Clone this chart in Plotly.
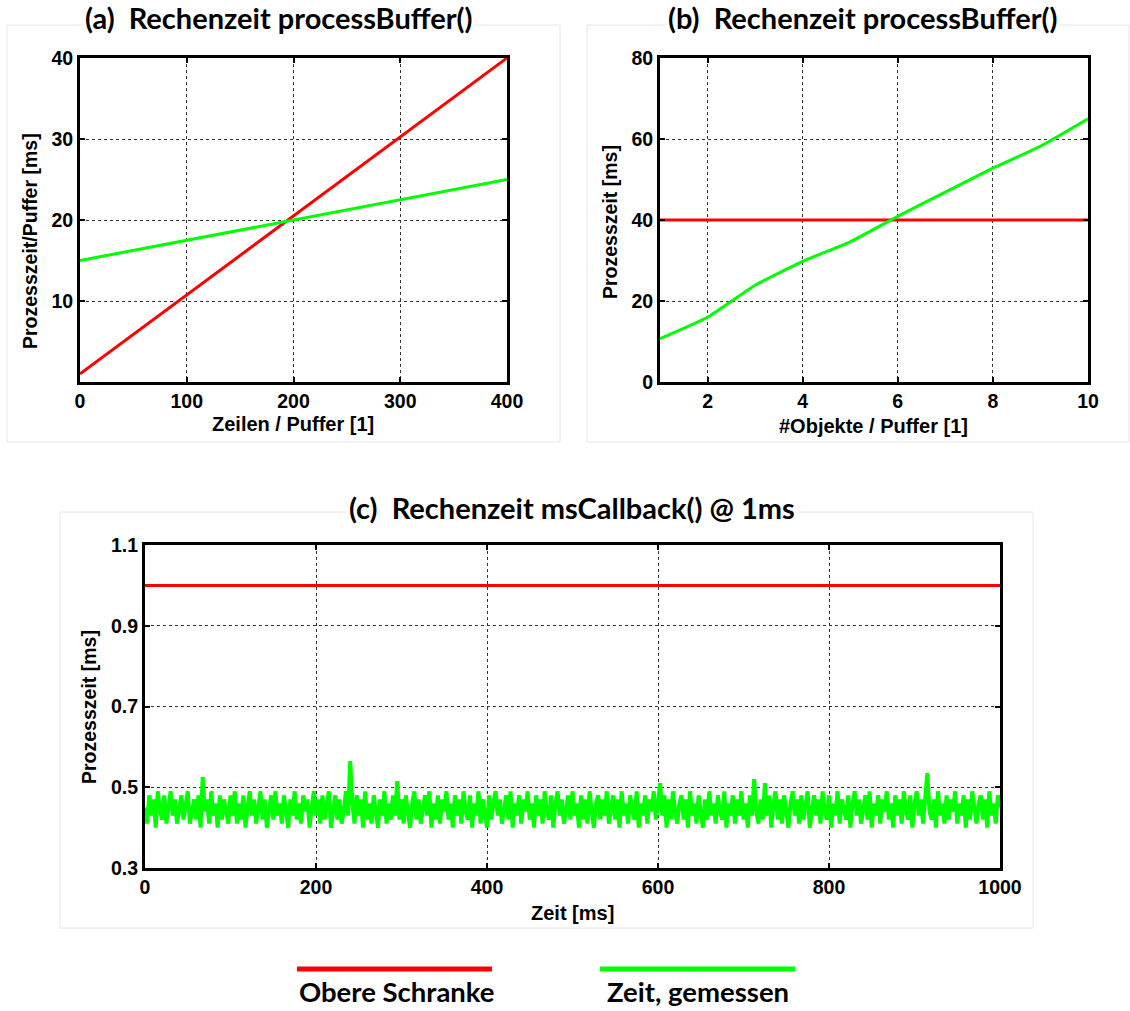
import plotly.graph_objects as go

W, H = 1130, 1011

# ---- data ----
a_x = [0, 400]
a_red = [1, 40]
a_green = [15, 25]

b_x = [1, 2, 3, 4, 5, 6, 7, 8, 9, 10]
b_green = [10.7, 16.0, 23.9, 29.8, 34.6, 40.9, 46.9, 52.8, 58.2, 65.0]
b_red = [40] * len(b_x)

c_step = 2.5
c_green = [
    0.45, 0.41, 0.48, 0.43, 0.47, 0.40, 0.49, 0.44, 0.42, 0.48, 0.41, 0.46, 0.49, 0.43, 0.47, 0.41, 0.45, 0.48, 0.42, 0.46,
    0.49, 0.41, 0.44, 0.47, 0.42, 0.48, 0.40, 0.525, 0.44, 0.47, 0.41, 0.49, 0.43, 0.46, 0.40, 0.48, 0.42, 0.47, 0.44, 0.41,
    0.48, 0.43, 0.49, 0.41, 0.46, 0.42, 0.48, 0.40, 0.45, 0.49, 0.43, 0.47, 0.41, 0.46, 0.49, 0.42, 0.47, 0.40, 0.44, 0.48,
    0.42, 0.49, 0.43, 0.46, 0.41, 0.48, 0.44, 0.40, 0.47, 0.43, 0.49, 0.42, 0.46, 0.41, 0.48, 0.44, 0.47, 0.40, 0.45, 0.49,
    0.43, 0.47, 0.41, 0.48, 0.42, 0.46, 0.49, 0.40, 0.45, 0.48, 0.42, 0.47, 0.41, 0.44, 0.49, 0.43, 0.565, 0.46, 0.41, 0.48,
    0.43, 0.47, 0.40, 0.49, 0.42, 0.46, 0.41, 0.48, 0.44, 0.40, 0.47, 0.43, 0.49, 0.41, 0.46, 0.42, 0.48, 0.43, 0.515, 0.42,
    0.47, 0.41, 0.48, 0.44, 0.40, 0.46, 0.49, 0.42, 0.47, 0.41, 0.45, 0.48, 0.43, 0.49, 0.40, 0.46, 0.42, 0.48, 0.41, 0.47,
    0.44, 0.49, 0.42, 0.46, 0.40, 0.48, 0.43, 0.47, 0.41, 0.49, 0.44, 0.42, 0.48, 0.40, 0.46, 0.43, 0.49, 0.41, 0.47, 0.44,
    0.40, 0.48, 0.42, 0.46, 0.49, 0.43, 0.47, 0.41, 0.45, 0.48, 0.42, 0.49, 0.40, 0.46, 0.43, 0.48, 0.41, 0.47, 0.44, 0.49,
    0.42, 0.46, 0.40, 0.48, 0.43, 0.47, 0.41, 0.49, 0.44, 0.42, 0.48, 0.40, 0.46, 0.49, 0.43, 0.47, 0.41, 0.45, 0.48, 0.42,
    0.49, 0.43, 0.46, 0.40, 0.48, 0.42, 0.47, 0.41, 0.49, 0.44, 0.40, 0.46, 0.48, 0.42, 0.47, 0.43, 0.49, 0.41, 0.45, 0.48,
    0.42, 0.47, 0.40, 0.49, 0.43, 0.46, 0.41, 0.48, 0.44, 0.42, 0.49, 0.40, 0.46, 0.43, 0.48, 0.41, 0.47, 0.44, 0.49, 0.42,
    0.46, 0.51, 0.43, 0.48, 0.40, 0.47, 0.42, 0.49, 0.44, 0.41, 0.46, 0.48, 0.42, 0.47, 0.40, 0.49, 0.43, 0.46, 0.41, 0.48,
    0.44, 0.40, 0.47, 0.42, 0.49, 0.43, 0.46, 0.41, 0.48, 0.44, 0.42, 0.49, 0.40, 0.46, 0.43, 0.48, 0.41, 0.47, 0.43, 0.49,
    0.42, 0.46, 0.40, 0.48, 0.43, 0.52, 0.44, 0.41, 0.47, 0.42, 0.51, 0.43, 0.48, 0.40, 0.46, 0.49, 0.42, 0.47, 0.41, 0.48,
    0.44, 0.40, 0.46, 0.49, 0.43, 0.47, 0.41, 0.48, 0.42, 0.46, 0.49, 0.40, 0.45, 0.48, 0.43, 0.47, 0.41, 0.49, 0.44, 0.42,
    0.48, 0.40, 0.46, 0.43, 0.49, 0.41, 0.47, 0.44, 0.42, 0.48, 0.40, 0.46, 0.49, 0.43, 0.47, 0.41, 0.45, 0.48, 0.42, 0.49,
    0.40, 0.46, 0.43, 0.48, 0.41, 0.47, 0.44, 0.49, 0.42, 0.46, 0.40, 0.48, 0.43, 0.47, 0.41, 0.49, 0.44, 0.42, 0.48, 0.40,
    0.46, 0.49, 0.43, 0.47, 0.41, 0.48, 0.535, 0.44, 0.42, 0.47, 0.40, 0.49, 0.43, 0.46, 0.41, 0.48, 0.42, 0.47, 0.44, 0.49,
    0.41, 0.46, 0.43, 0.48, 0.40, 0.47, 0.42, 0.49, 0.44, 0.41, 0.46, 0.48, 0.42, 0.47, 0.40, 0.49, 0.43, 0.46, 0.41, 0.48,
    0.45,
]
c_x = [i * c_step for i in range(len(c_green))]
c_red = [1.0, 1.0]
c_red_x = [0, 1000]

titles = ["(a)  Rechenzeit processBuffer()", "(b)  Rechenzeit processBuffer()",
          "(c)  Rechenzeit msCallback() @ 1ms"]
legend_labels = ["Obere Schranke", "Zeit, gemessen"]

RED = "#ff0000"
GREEN = "#00ff00"


def px(x):
    return x / W


def py(y):
    return 1 - y / H


fig = go.Figure()
fig.add_trace(go.Scatter(x=a_x, y=a_red, mode="lines", line=dict(color=RED, width=3), xaxis="x", yaxis="y"))
fig.add_trace(go.Scatter(x=a_x, y=a_green, mode="lines", line=dict(color=GREEN, width=3), xaxis="x", yaxis="y"))
fig.add_trace(go.Scatter(x=b_x, y=b_red, mode="lines", line=dict(color=RED, width=3), xaxis="x2", yaxis="y2"))
fig.add_trace(go.Scatter(x=b_x, y=b_green, mode="lines", line=dict(color=GREEN, width=3, shape="spline", smoothing=0.4),
                         xaxis="x2", yaxis="y2"))
fig.add_trace(go.Scatter(x=c_red_x, y=c_red, mode="lines", line=dict(color=RED, width=3), xaxis="x3", yaxis="y3"))
fig.add_trace(go.Scatter(x=c_x, y=c_green, mode="lines", line=dict(color=GREEN, width=4),
                         xaxis="x3", yaxis="y3"))

tickfont = dict(family="Liberation Sans, Arial", size=19.5, color="black", weight="bold")


def ax(domain, rng, tickvals, anchor, ticktext=None):
    d = dict(domain=domain, range=rng, tickvals=tickvals, anchor=anchor,
             showline=True, linecolor="black", linewidth=3, mirror="ticks",
             ticks="inside", ticklen=5, tickwidth=2, tickcolor="black",
             showgrid=True, gridcolor="#333333", gridwidth=1, griddash="dot",
             zeroline=False, tickfont=tickfont, fixedrange=True, automargin=False)
    if ticktext is not None:
        d["ticktext"] = ticktext
    return d


fig.update_layout(
    width=W, height=H, margin=dict(l=0, r=0, t=0, b=0, pad=0, autoexpand=False),
    paper_bgcolor="white", plot_bgcolor="white", showlegend=False,
    xaxis=ax([px(80), px(507)], [0, 400], [0, 100, 200, 300, 400], "y"),
    yaxis=ax([py(382), py(58)], [0, 40], [10, 20, 30, 40], "x"),
    xaxis2=ax([px(660), px(1088)], [1, 10], [2, 4, 6, 8, 10], "y2"),
    yaxis2=ax([py(382), py(58)], [0, 80], [0, 20, 40, 60, 80], "x2"),
    xaxis3=ax([px(145), px(1000)], [0, 1000], [0, 200, 400, 600, 800, 1000], "y3"),
    yaxis3=ax([py(868), py(545)], [0.3, 1.1], [0.3, 0.5, 0.7, 0.9, 1.1], "x3",
              ticktext=["0.3", "0.5", "0.7", "0.9", "1.1"]),
)

# faint panel frames
for (x0, y0, x1, y1) in [(7, 25, 560, 442), (587, 25, 1129, 442), (60, 512, 1033, 928)]:
    fig.add_shape(type="rect", xref="paper", yref="paper", x0=px(x0), x1=px(x1), y0=py(y0), y1=py(y1),
                  line=dict(color="#e6e6e6", width=1), layer="below")

titlefont = dict(family="Lato, Open Sans", size=29, color="black", weight="bold")
legfont = dict(family="Lato, Open Sans", size=27.5, color="black", weight="bold")
labfont_x = dict(family="Liberation Sans, Arial", size=20, color="black", weight="bold")
labfont_y = dict(family="Liberation Sans, Arial", size=19.5, color="black", weight="bold")

for t, (cx, cy) in zip(titles, [(278, 18), (862, 18), (572, 507)]):
    fig.add_annotation(text=t, x=px(cx), y=py(cy), xref="paper", yref="paper", showarrow=False,
                       font=titlefont, xanchor="center", yanchor="middle", bgcolor="white")

for t, (cx, cy) in zip(["Zeilen / Puffer [1]", "#Objekte / Puffer [1]", "Zeit [ms]"],
                       [(293, 424), (873, 426), (572, 913)]):
    fig.add_annotation(text=t, x=px(cx), y=py(cy), xref="paper", yref="paper", showarrow=False,
                       font=labfont_x, xanchor="center", yanchor="middle")

for t, (cx, cy) in zip(["Prozesszeit/Puffer [ms]", "Prozesszeit [ms]", "Prozesszeit [ms]"],
                       [(30, 241), (610, 222), (89, 707)]):
    fig.add_annotation(text=t, x=px(cx), y=py(cy), xref="paper", yref="paper", showarrow=False,
                       font=labfont_y, xanchor="center", yanchor="middle", textangle=-90)

# bottom legend
for lab, col, (x0, x1), tx in zip(legend_labels, [RED, GREEN], [(297, 492), (600, 795)], [297, 605]):
    fig.add_shape(type="line", xref="paper", yref="paper", x0=px(x0), x1=px(x1), y0=py(969), y1=py(969),
                  line=dict(color=col, width=5))
    fig.add_annotation(text=lab, x=px(tx), y=py(1010), xref="paper", yref="paper", showarrow=False,
                       font=legfont, xanchor="left", yanchor="bottom")

fig.write_html("out.html", config={"displayModeBar": False},
               post_script="document.body.style.margin='0';document.body.style.overflow='hidden';")
